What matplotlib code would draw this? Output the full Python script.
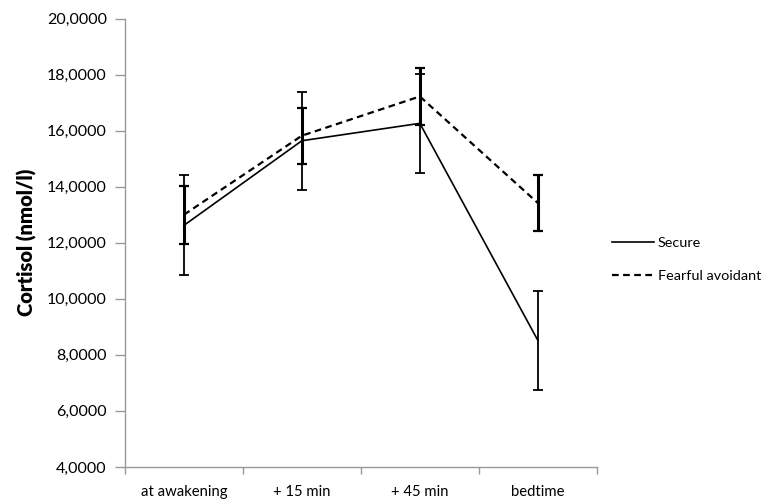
import matplotlib
matplotlib.use('Agg')
import matplotlib.pyplot as plt
from matplotlib.ticker import FuncFormatter

plt.rcParams['font.family'] = ['Lato', 'DejaVu Sans']

times = ['at awakening', '+ 15 min', '+ 45 min', 'bedtime']
secure = [12.62, 15.64, 16.26, 8.52]
secure_err = [1.78, 1.75, 1.77, 1.76]
fearful = [13.00, 15.82, 17.22, 13.42]
fearful_err = [1.03, 1.00, 1.01, 1.01]

fig = plt.figure(figsize=(7.7, 5.01), dpi=100)
ax = fig.add_axes([0.1623, 0.068, 0.6127, 0.895])

x = list(range(len(times)))
ax.errorbar(x, secure, yerr=secure_err, color='black', lw=1.2,
            elinewidth=1.3, capsize=3.5, capthick=1.3, label='Secure')
ax.errorbar(x, fearful, yerr=fearful_err, color='black', lw=1.6,
            ls=(0, (3, 2)), elinewidth=2.2, capsize=3.5, capthick=1.6,
            label='Fearful avoidant')

ax.set_xlim(-0.5, 3.5)
ax.set_ylim(4, 20)
ax.set_yticks([4, 6, 8, 10, 12, 14, 16, 18, 20])
ax.yaxis.set_major_formatter(FuncFormatter(lambda v, p: '%d,0000' % v))
ax.set_xticks(x)
ax.set_xticklabels(times)
ax.set_xticks([-0.5, 0.5, 1.5, 2.5, 3.5], minor=True)
ax.tick_params(axis='x', which='major', length=0, pad=13, labelsize=10.7)
ax.tick_params(axis='x', which='minor', length=5, color='#999999', width=1)
ax.tick_params(axis='y', length=7, color='#999999', width=1, labelsize=11.5,
               pad=6)

for s in ['top', 'right']:
    ax.spines[s].set_visible(False)
for s in ['left', 'bottom']:
    ax.spines[s].set_color('#999999')
    ax.spines[s].set_linewidth(1)

ax.set_ylabel('Cortisol (nmol/l)', fontsize=14.5, fontweight='heavy',
              labelpad=7)

handles, labels = ax.get_legend_handles_labels()
handles = [h[0] for h in handles]
fig.legend(handles, labels, loc='center left', bbox_to_anchor=(0.787, 0.482),
           frameon=False, fontsize=10.4, handlelength=2.9, labelspacing=1.45,
           handletextpad=0.3, borderpad=0.2, borderaxespad=0.2)

fig.savefig('out.png', dpi=100)
